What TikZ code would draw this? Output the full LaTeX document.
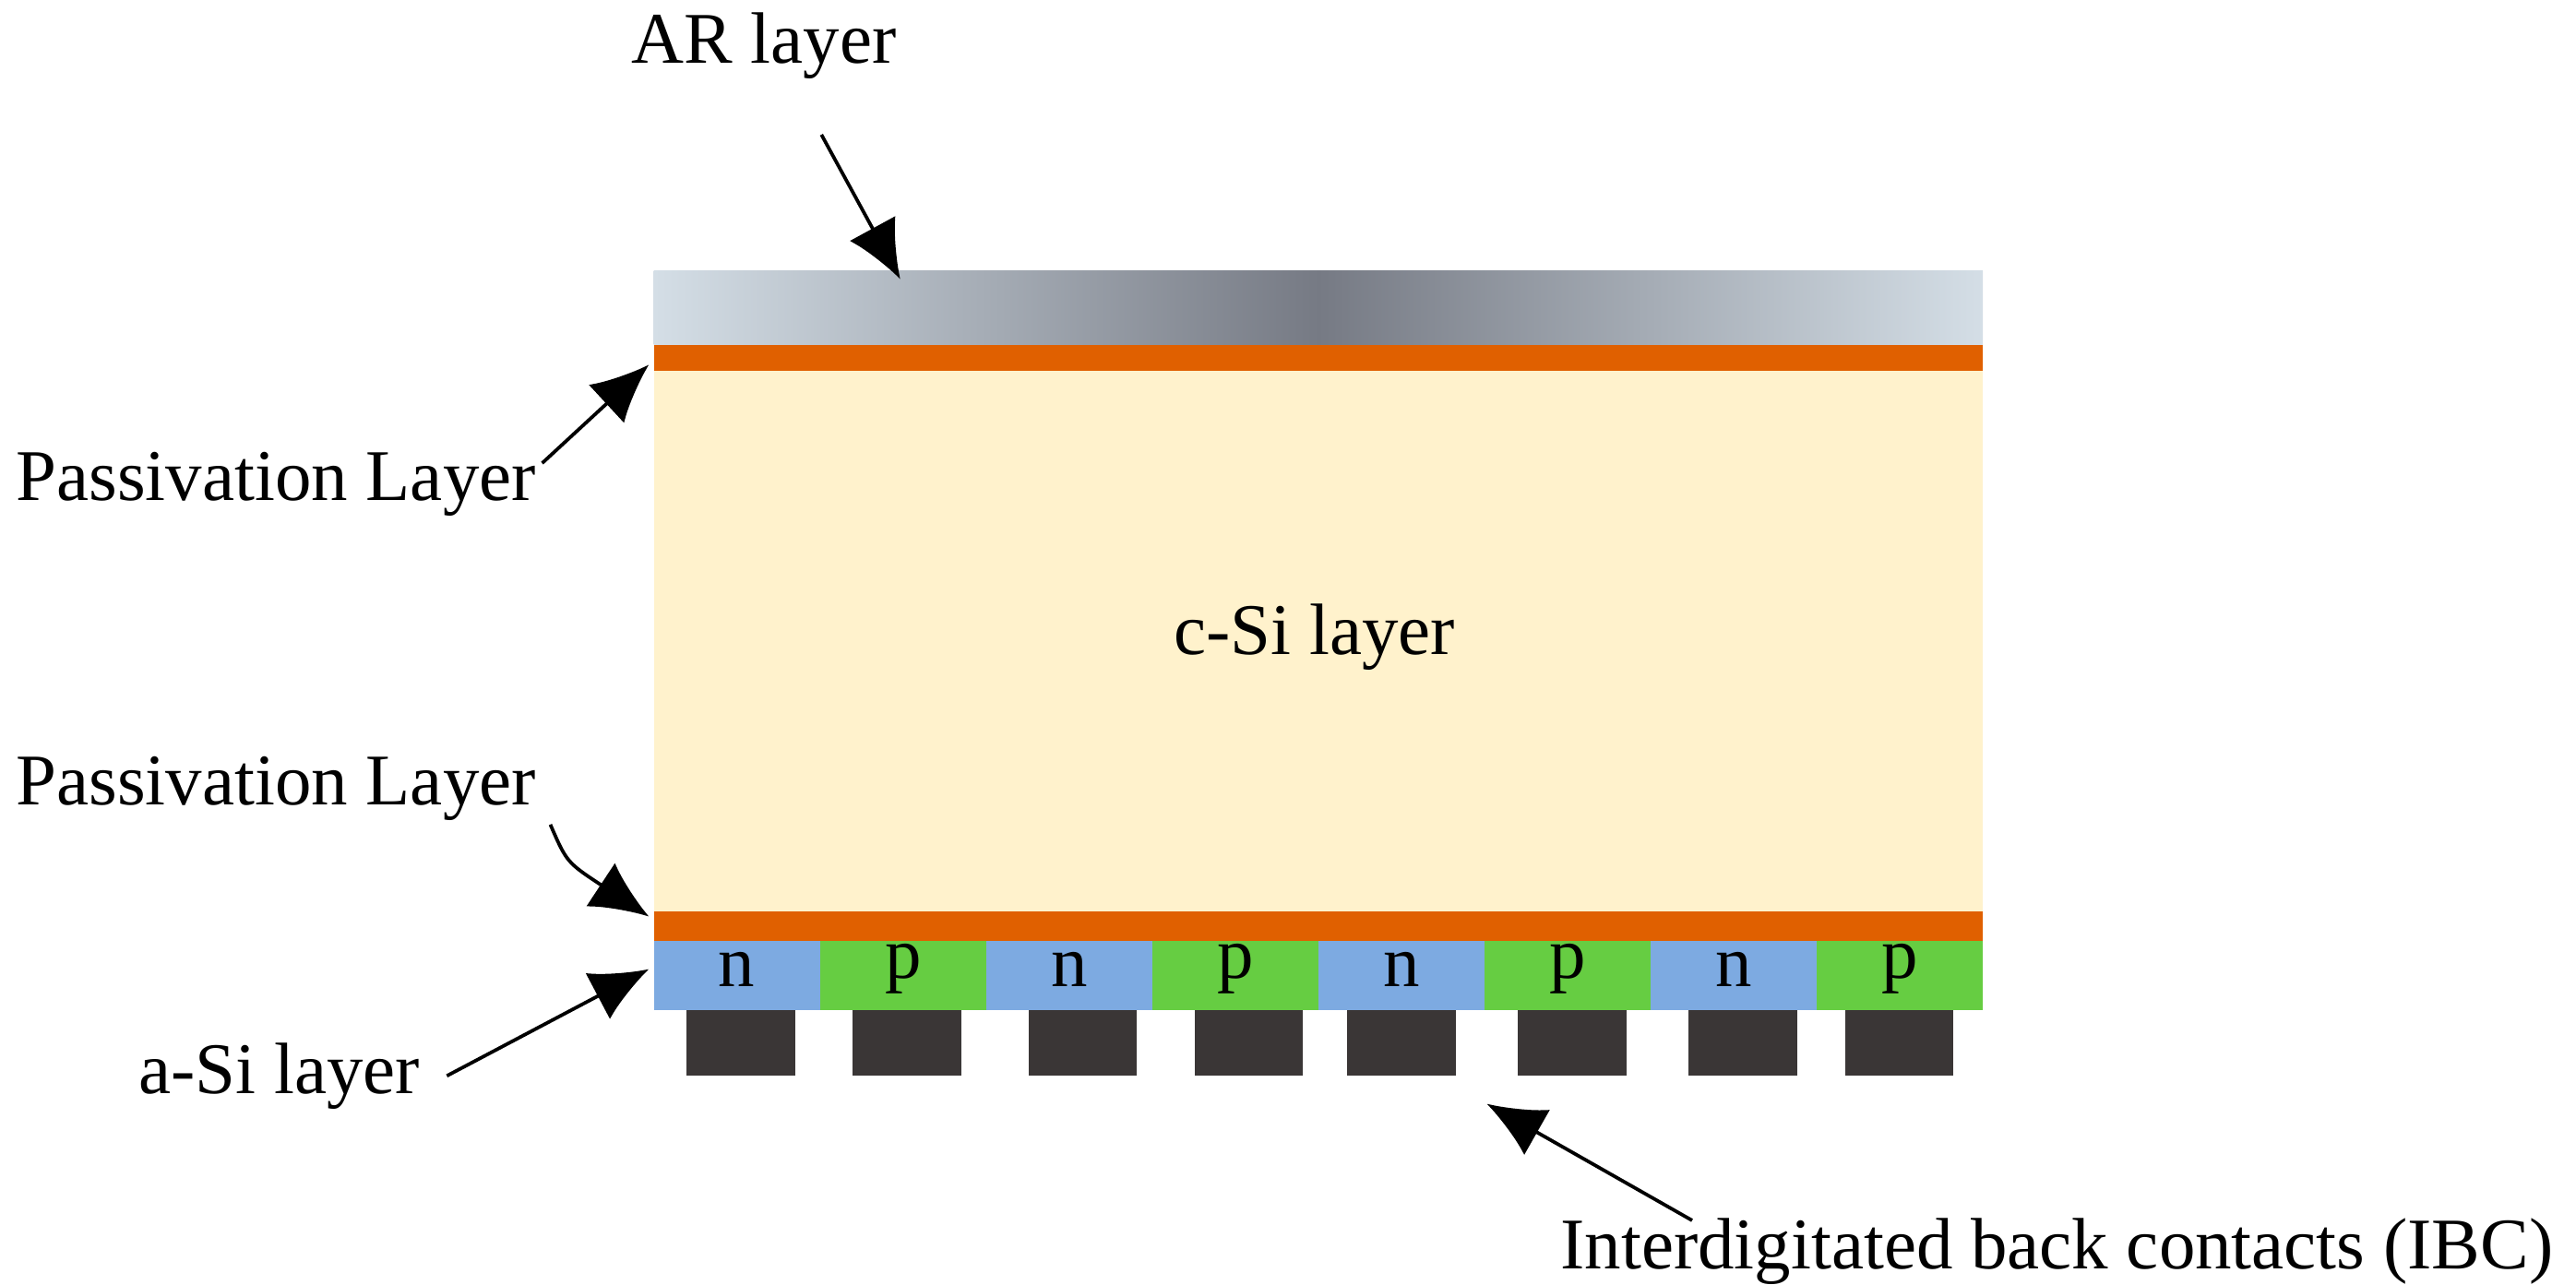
\documentclass[tikz,border=0pt]{standalone}
\usepackage{fontspec}
\setmainfont{Liberation Serif}
\usetikzlibrary{arrows.meta}
\begin{document}
\begin{tikzpicture}[x=0.01cm,y=-0.01cm,
 lbl/.style={font=\fontsize{12.6pt}{15pt}\selectfont,inner sep=0pt},
 arr/.style={-{Latex[length=10pt,width=9pt]},line width=0.6pt}]
\useasboundingbox (0,0) rectangle (1568,782);
\definecolor{arl}{RGB}{212,222,230}\definecolor{ard}{RGB}{118,122,132}
\definecolor{pas}{RGB}{224,96,0}\definecolor{csi}{RGB}{255,242,204}
\definecolor{nb}{RGB}{125,170,225}\definecolor{pg}{RGB}{102,205,66}
\definecolor{ct}{RGB}{58,54,54}
\shade[left color=arl,right color=ard] (398,165) rectangle (803,210);
\shade[left color=ard,right color=arl] (802,165) rectangle (1207,210);
\fill[pas] (398,210) rectangle (1207,226);
\fill[csi] (398,226) rectangle (1207,555);
\fill[pas] (398,555) rectangle (1207,573);
\foreach \i in {0,...,7}{
  \pgfmathsetmacro\xa{398+\i*101.125}\pgfmathsetmacro\xb{398+(\i+1)*101.125}
  \ifodd\i \fill[pg] (\xa,573) rectangle (\xb,615); \node[lbl] at ({(\xa+\xb)/2},590) {p};
  \else \fill[nb] (\xa,573) rectangle (\xb,615); \node[lbl] at ({(\xa+\xb)/2},590) {n};\fi}
\foreach \c in {451,552,659,760,853,957,1061,1156}
  \fill[ct] (\c-33,615) rectangle (\c+33,655);
\node[lbl] (ar) at (465,28) {AR layer};
\coordinate (art) at (548,170);
\draw[arr] (500,82) -- (art);
\node[lbl] (p1) at (168,295) {Passivation Layer};
\coordinate (p1t) at (395,222);
\draw[arr] (330,282) -- (p1t);
\node[lbl] (p2) at (168,480) {Passivation Layer};
\coordinate (p2t) at (395,558);
\draw[arr] (335,502) .. controls (345,525) .. (p2t);
\node[lbl] at (800,388) {c-Si layer};
\node[lbl] (as) at (170,655) {a-Si layer};
\coordinate (ast) at (395,590);
\draw[arr] (272,655) -- (ast);
\node[lbl] (ibc) at (1252,762) {Interdigitated back contacts (IBC)};
\coordinate (ibct) at (905,672);
\draw[arr] (1030,743) -- (ibct);
\end{tikzpicture}
\end{document}
